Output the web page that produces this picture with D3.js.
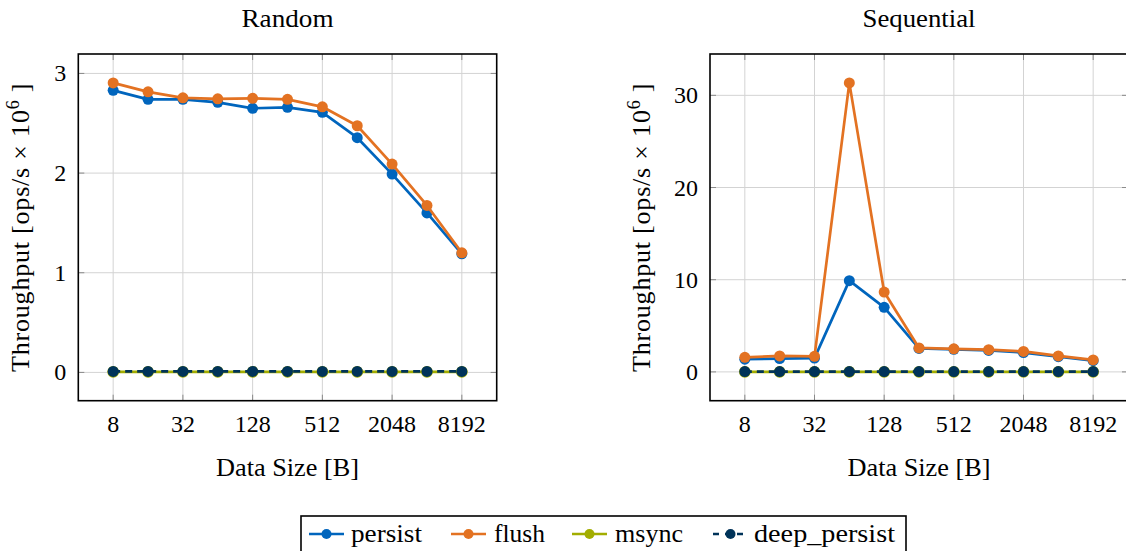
<!DOCTYPE html>
<html>
<head>
<meta charset="utf-8">
<script src="https://cdn.jsdelivr.net/npm/d3@7"></script>
<style>
  html, body { margin: 0; padding: 0; background: #fff; }
  svg { display: block; }
</style>
</head>
<body>
<svg id="chart" width="1126" height="551"></svg>
<script>
// ---- data ----
const sizes = [8, 16, 32, 64, 128, 256, 512, 1024, 2048, 4096, 8192];
const xTicks = [8, 32, 128, 512, 2048, 8192];

const randomPersist = [2.83, 2.74, 2.74, 2.71, 2.65, 2.66, 2.61, 2.355, 1.99, 1.60, 1.19];
const randomFlush   = [2.905, 2.815, 2.755, 2.745, 2.75, 2.74, 2.665, 2.475, 2.09, 1.675, 1.20];
const randomMsync   = [0.006, 0.006, 0.006, 0.006, 0.006, 0.006, 0.006, 0.006, 0.006, 0.006, 0.006];
const randomDeep    = [0.010, 0.010, 0.010, 0.010, 0.010, 0.010, 0.010, 0.010, 0.010, 0.010, 0.010];
const randomYTicks  = [0, 1, 2, 3];

const seqPersist = [1.38, 1.45, 1.5, 9.9, 7.0, 2.55, 2.45, 2.33, 2.1, 1.65, 1.22];
const seqFlush   = [1.58, 1.73, 1.69, 31.35, 8.66, 2.6, 2.5, 2.41, 2.22, 1.73, 1.3];
const seqMsync   = [0.01, 0.01, 0.01, 0.01, 0.01, 0.01, 0.01, 0.01, 0.01, 0.01, 0.01];
const seqDeep    = [0.04, 0.04, 0.04, 0.04, 0.04, 0.04, 0.04, 0.04, 0.04, 0.04, 0.04];
const seqYTicks  = [0, 10, 20, 30];

const seriesNames  = ["persist", "flush", "msync", "deep_persist"];
const seriesColors = ["#0065bd", "#e37222", "#a2ad00", "#003359"];
const seriesDashed = [false, false, false, true];

// ---- drawing ----
const svg = d3.select("#chart");
const FAMILY = "'Liberation Serif', 'DejaVu Serif', 'Times New Roman', serif";
const TICKFONT = 24;
const LABELFONT = 26;

function txt(sel) {
  return sel.attr("font-family", FAMILY).attr("fill", "#000");
}

function panel(opts) {
  const { left, right, top, bottom, title, titleLen, series, yTicks, ylabelX } = opts;
  const g = svg.append("g");

  const x = d3.scaleLog().base(2).domain([4, 16384]).range([left, right]);
  const all = series.flat();
  const mn = d3.min(all), mx = d3.max(all), pad = (mx - mn) * 0.1;
  const y = d3.scaleLinear().domain([mn - pad, mx + pad]).range([bottom, top]);

  // grid
  g.append("g").selectAll("line").data(xTicks).join("line")
    .attr("x1", d => x(d)).attr("x2", d => x(d))
    .attr("y1", top).attr("y2", bottom)
    .attr("stroke", "#d3d3d3").attr("stroke-width", 1);
  g.append("g").selectAll("line").data(yTicks).join("line")
    .attr("y1", d => y(d)).attr("y2", d => y(d))
    .attr("x1", left).attr("x2", right)
    .attr("stroke", "#d3d3d3").attr("stroke-width", 1);

  // ticks (inward, all four sides)
  const tl = 6;
  const tk = g.append("g").attr("stroke", "#8a8a8a").attr("stroke-width", 1);
  xTicks.forEach(d => {
    tk.append("line").attr("x1", x(d)).attr("x2", x(d)).attr("y1", bottom).attr("y2", bottom - tl);
    tk.append("line").attr("x1", x(d)).attr("x2", x(d)).attr("y1", top).attr("y2", top + tl);
  });
  yTicks.forEach(d => {
    tk.append("line").attr("y1", y(d)).attr("y2", y(d)).attr("x1", left).attr("x2", left + tl);
    tk.append("line").attr("y1", y(d)).attr("y2", y(d)).attr("x1", right).attr("x2", right - tl);
  });

  // tick labels
  txt(g.append("g").selectAll("text").data(xTicks).join("text"))
    .attr("x", d => x(d)).attr("y", bottom + 31.5)
    .attr("text-anchor", "middle").attr("font-size", TICKFONT)
    .text(d => d);
  txt(g.append("g").selectAll("text").data(yTicks).join("text"))
    .attr("x", left - 12).attr("y", d => y(d) + 8)
    .attr("text-anchor", "end").attr("font-size", TICKFONT)
    .text(d => d);

  // series
  const line = d3.line().x((d, i) => x(sizes[i])).y(d => y(d));
  series.forEach((vals, si) => {
    const sg = g.append("g");
    sg.append("path").datum(vals)
      .attr("d", line).attr("fill", "none")
      .attr("stroke", seriesColors[si]).attr("stroke-width", 2.7)
      .attr("stroke-linejoin", "round")
      .attr("stroke-dasharray", seriesDashed[si] ? "7,5" : null);
    sg.selectAll("circle").data(vals).join("circle")
      .attr("cx", (d, i) => x(sizes[i])).attr("cy", d => y(d))
      .attr("r", si === 2 ? 5.9 : 5.5).attr("fill", seriesColors[si]);
  });

  // frame
  g.append("rect").attr("x", left).attr("y", top)
    .attr("width", right - left).attr("height", bottom - top)
    .attr("fill", "none").attr("stroke", "#000").attr("stroke-width", 1.6);

  // title
  txt(g.append("text")).attr("x", (left + right) / 2).attr("y", 27)
    .attr("text-anchor", "middle").attr("font-size", LABELFONT)
    .attr("textLength", titleLen).attr("lengthAdjust", "spacingAndGlyphs").text(title);

  // x label
  txt(g.append("text")).attr("x", (left + right) / 2).attr("y", bottom + 75)
    .attr("text-anchor", "middle").attr("font-size", LABELFONT)
    .attr("textLength", 143).attr("lengthAdjust", "spacingAndGlyphs").text("Data Size [B]");

  // y label
  const cy = (top + bottom) / 2;
  const yl = txt(g.append("text"))
    .attr("transform", `translate(${ylabelX},${cy}) rotate(-90)`)
    .attr("text-anchor", "middle").attr("font-size", LABELFONT)
    .attr("letter-spacing", 0.8);
  yl.append("tspan").text("Throughput [ops/s \u00D7 10");
  yl.append("tspan").attr("dy", -10).attr("font-size", 18).text("6");
  yl.append("tspan").attr("dy", 10).text(" ]");
}

panel({ left: 78.3, right: 496.7, top: 54, bottom: 400.7, title: "Random", titleLen: 92,
        series: [randomPersist, randomFlush, randomMsync, randomDeep],
        yTicks: randomYTicks, ylabelX: 29 });
panel({ left: 710, right: 1128, top: 54, bottom: 400.7, title: "Sequential", titleLen: 113,
        series: [seqPersist, seqFlush, seqMsync, seqDeep],
        yTicks: seqYTicks, ylabelX: 650 });

// ---- legend ----
const lg = svg.append("g");
lg.append("rect").attr("x", 301).attr("y", 516).attr("width", 605).attr("height", 40)
  .attr("fill", "#fff").attr("stroke", "#000").attr("stroke-width", 1.6);
const legendIconX = [309, 451, 572, 713];
const legendTextX = [351, 494, 615, 754];
const legendTextLen = [71, 51, 68, 141];
seriesNames.forEach((name, i) => {
  const x0 = legendIconX[i];
  lg.append("line").attr("x1", x0).attr("x2", x0 + 35).attr("y1", 534).attr("y2", 534)
    .attr("stroke", seriesColors[i]).attr("stroke-width", 2.7)
    .attr("stroke-dasharray", seriesDashed[i] ? "6,6" : null);
  lg.append("circle").attr("cx", x0 + 17.5).attr("cy", 534).attr("r", 5).attr("fill", seriesColors[i]);
  txt(lg.append("text")).attr("x", legendTextX[i]).attr("y", 542).attr("font-size", LABELFONT)
    .attr("textLength", legendTextLen[i]).attr("lengthAdjust", "spacingAndGlyphs").text(name);
});
</script>
</body>
</html>
